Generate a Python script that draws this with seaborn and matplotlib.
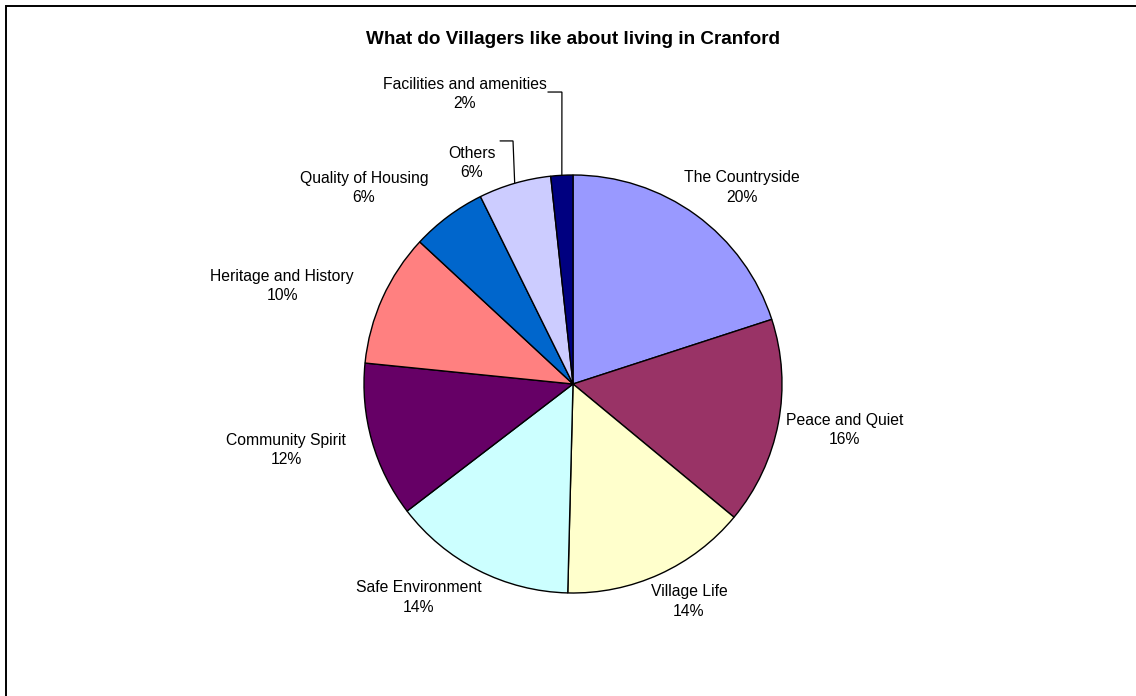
#  Cranford village survey: what villagers like about living there
#  Excel-style pie chart redrawn with seaborn/matplotlib

import numpy as np
import matplotlib
matplotlib.use("Agg")
import matplotlib.pyplot as plt
import seaborn as sns
from matplotlib.patches import Rectangle

sns.set_theme(style="white")
plt.rcParams['font.family'] = ['Liberation Sans', 'DejaVu Sans']

#
#  Data (share of responses, %)
#

categories = ["The Countryside", "Peace and Quiet", "Village Life",
              "Safe Environment", "Community Spirit", "Heritage and History",
              "Quality of Housing", "Others", "Facilities and amenities"]
shares = [20.0, 16.0, 14.4, 14.2, 12.0, 10.3, 5.8, 5.6, 1.7]

#  classic Excel chart palette
colors = ["#9999FF", "#993366", "#FFFFCC", "#CCFFFF", "#660066",
          "#FF8080", "#0066CC", "#CCCCFF", "#000080"]

#  label placement, in units of the pie radius
label_pos = [(0.81, 0.94), (1.30, -0.22), (0.555, -1.04), (-0.737, -1.02),
             (-1.373, -0.316), (-1.392, 0.469), (-1.0, 0.938),
             (-0.483, 1.057), (-0.517, 1.388)]

#%%
W, H, dpi = 1136, 696, 100
cx, cy, R = 573, 384, 209

fig = plt.figure(figsize=(W / dpi, H / dpi), dpi=dpi)
ax = fig.add_axes([0, 0, 1, 1])

wedges, _ = ax.pie(shares, colors=colors, startangle=90, counterclock=False,
                   radius=1.0,
                   wedgeprops=dict(edgecolor='black', linewidth=1.0))
ax.set_xlim(-cx / R, (W - cx) / R)
ax.set_ylim(-(H - cy) / R, cy / R)
ax.set_aspect('equal')
ax.axis('off')

fs = 11.3
for w, name, val, (lx, ly) in zip(wedges, categories, shares, label_pos):
    ax.text(lx, ly, f"{name}\n{val:.0f}%", ha='center', va='center',
            fontsize=fs, color='black', linespacing=1.39)

#  leader lines for the two small slices at the top
leaders = [(7, -0.349, -0.287, 1.163), (8, -0.120, -0.053, 1.397)]
for i, x0, x1, ly in leaders:
    w = wedges[i]
    mid = np.deg2rad((w.theta1 + w.theta2) / 2)
    ex, ey = np.cos(mid), np.sin(mid)
    ax.plot([x0, x1, ex], [ly, ly, ey], color='black', lw=0.9,
            solid_joinstyle='miter')

fig.text(cx / W, 1 - 40 / H, "What do Villagers like about living in Cranford",
         ha='center', va='center', fontsize=13.6, fontweight='bold',
         color='black')

#  outer chart frame (runs off the right and bottom edges)
fig.patches.append(Rectangle((6 / W, -0.05), 1.1, 1 - 6 / H + 0.05,
                             transform=fig.transFigure, fill=False,
                             edgecolor='black', linewidth=1.4))

fig.savefig('out.png', dpi=dpi)
